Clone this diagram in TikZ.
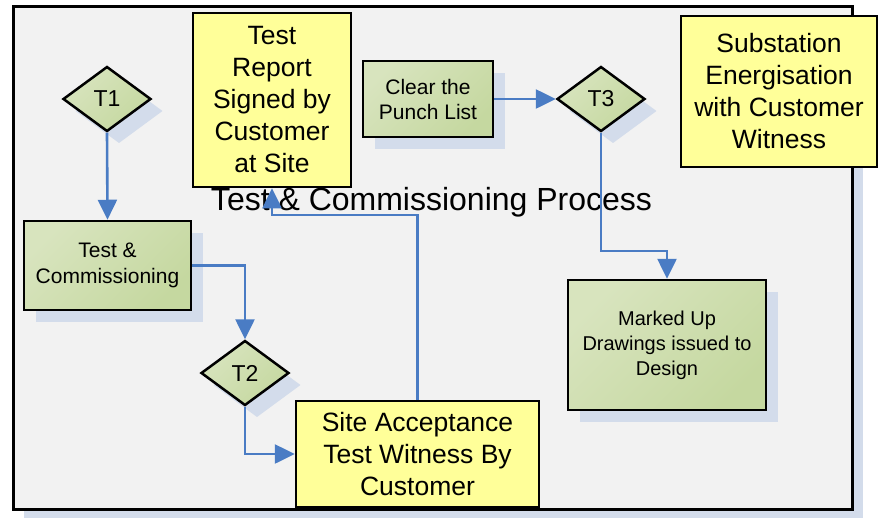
\documentclass[tikz,border=0pt]{standalone}
\usepackage{fontspec}
\setmainfont{Liberation Sans}
\usetikzlibrary{shapes.geometric,shadows,arrows.meta}
\definecolor{frameFill}{HTML}{F2F2F2}
\definecolor{shadowC}{HTML}{D3DCEB}
\definecolor{yellowFill}{HTML}{FFFF99}
\definecolor{greenA}{HTML}{D8E4BE}
\definecolor{greenB}{HTML}{C5D8A0}
\definecolor{flowBlue}{HTML}{4A7CC4}
\begin{document}
\begin{tikzpicture}[x=1pt,y=-1pt,
  sh/.style={drop shadow={shadow xshift=12pt,shadow yshift=-12pt,fill=shadowC,opacity=1}},
  greenfill/.style={top color=greenA,bottom color=greenB,shading angle=45},
  greenbox/.style={draw=black,line width=2.5pt,greenfill,align=center,inner sep=0pt,sh},
  yellowbox/.style={draw=black,line width=2.5pt,fill=yellowFill,align=center,inner sep=0pt,font=\fontsize{26.5}{32}\selectfont},
  decision/.style={diamond,draw=black,line width=2.5pt,greenfill,minimum width=88pt,minimum height=65pt,inner sep=0pt,font=\fontsize{23}{27}\selectfont,sh},
  flow/.style={draw=flowBlue,line width=2.6pt,-{Triangle[length=20pt,width=19pt]}}
]
\useasboundingbox (0,0) rectangle (878,517);
% frame
\node[draw=black,line width=3pt,fill=frameFill,minimum width=839pt,minimum height=503pt,inner sep=0pt,
  drop shadow={shadow xshift=11pt,shadow yshift=-11pt,fill=shadowC,opacity=1}] (frame) at (432.5,257.5) {};
% title
\node[font=\fontsize{32}{38}\selectfont,anchor=base,inner sep=0pt] (title) at (431.5,210) {Test \& Commissioning Process};
% nodes
\node[yellowbox,minimum width=158pt,minimum height=174pt] (report) at (272,100) {Test\\Report\\Signed by\\Customer\\at Site};
\node[greenbox,minimum width=130pt,minimum height=76pt,font=\fontsize{21}{25}\selectfont] (clear) at (428,99) {Clear the\\Punch List};
\node[decision] (t1) at (107,99) {T1};
\node[decision] (t3) at (601,99) {T3};
\node[yellowbox,minimum width=196pt,minimum height=151pt] (subst) at (779,91.5) {Substation\\Energisation\\with Customer\\Witness};
\node[greenbox,minimum width=167pt,minimum height=89pt,font=\fontsize{21}{26}\selectfont] (tc) at (107.5,265.5) {Test \&\\Commissioning};
\node[decision] (t2) at (245,373) {T2};
\node[yellowbox,minimum width=243pt,minimum height=106pt] (sat) at (417.5,454) {Site Acceptance\\Test Witness By\\Customer};
\node[greenbox,minimum width=198pt,minimum height=130pt,font=\fontsize{20}{25}\selectfont] (mu) at (667,345) {Marked Up\\Drawings issued to\\Design};
% helper coordinates
\coordinate (y215) at (0,215);
\coordinate (y251) at (0,251);
% connectors
\draw[flow] (t1.south) -- (tc.north);
\draw[flow] (tc.east) -| (t2.north);
\draw[flow] (t2.south) |- (sat.west);
\draw[flow] (sat.north) -- (sat.north |- y215) -| (report.south);
\draw[flow] (clear.east) -- (t3.west);
\draw[flow] (t3.south) -- (t3.south |- y251) -| (mu.north);
\end{tikzpicture}
\end{document}
